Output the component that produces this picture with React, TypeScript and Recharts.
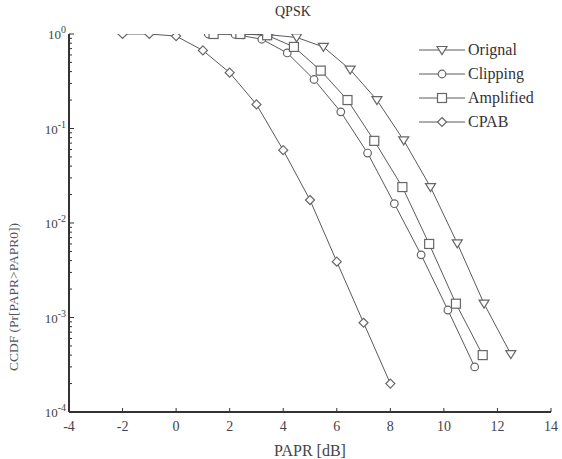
import React from 'react';
import { LineChart, Line, XAxis, YAxis } from 'recharts';

const xTicks = [-4, -2, 0, 2, 4, 6, 8, 10, 12, 14];
const yMajor = [1e-4, 1e-3, 1e-2, 1e-1, 1];
const yMinorFactors = [2, 3, 4, 5, 6, 7, 8, 9];

const origX = [2.5, 3.5, 4.5, 5.5, 6.5, 7.5, 8.5, 9.5, 10.5, 11.5, 12.5];
const origY = [1.0, 0.98, 0.92, 0.73, 0.42, 0.2, 0.075, 0.024, 0.0061, 0.0014, 0.00041];

const clipX = [1.2, 2.2, 3.2, 4.15, 5.15, 6.15, 7.15, 8.15, 9.15, 10.15, 11.15];
const clipY = [1.0, 0.99, 0.88, 0.63, 0.33, 0.15, 0.055, 0.016, 0.0046, 0.0012, 0.0003];

const ampX = [1.4, 2.4, 3.4, 4.4, 5.4, 6.4, 7.4, 8.45, 9.45, 10.45, 11.45];
const ampY = [1.0, 1.0, 0.97, 0.73, 0.41, 0.2, 0.074, 0.024, 0.006, 0.0014, 0.0004];

const cpabX = [-2, -1, 0, 1, 2, 3, 4, 5, 6, 7, 8];
const cpabY = [1.0, 1.0, 0.95, 0.67, 0.39, 0.18, 0.059, 0.0175, 0.0039, 0.00088, 0.0002];

const toRows = (xs: number[], ys: number[]) => xs.map((x, i) => ({ x, y: ys[i] }));

const yTicks = [
  ...yMajor,
  ...yMajor.slice(0, 4).flatMap((d) => yMinorFactors.map((m) => m * d)),
].sort((a, b) => a - b);

const LINE = '#5a5a5a';
const FONT = '"Liberation Serif", "Times New Roman", serif';

const Marker = ({ kind, cx, cy }: { kind: string; cx: number; cy: number }) => {
  const common = { fill: '#fff', stroke: '#666', strokeWidth: 1.2 };
  if (kind === 'tri') {
    const r = 5;
    return <polygon points={`${cx - r},${cy - r * 0.7} ${cx + r},${cy - r * 0.7} ${cx},${cy + r * 0.9}`} {...common} />;
  }
  if (kind === 'circle') return <circle cx={cx} cy={cy} r={3.8} {...common} />;
  if (kind === 'square') return <rect x={cx - 4.5} y={cy - 4.5} width={9} height={9} {...common} />;
  const r = 4.5;
  return <polygon points={`${cx},${cy - r} ${cx + r},${cy} ${cx},${cy + r} ${cx - r},${cy}`} {...common} />;
};

const dotFor = (kind: string) => (p: any) => <Marker key={`${kind}-${p.index}`} kind={kind} cx={p.cx} cy={p.cy} />;

const series = [
  { name: 'Orignal', kind: 'tri', data: toRows(origX, origY) },
  { name: 'Clipping', kind: 'circle', data: toRows(clipX, clipY) },
  { name: 'Amplified', kind: 'square', data: toRows(ampX, ampY) },
  { name: 'CPAB', kind: 'diamond', data: toRows(cpabX, cpabY) },
];

const XTick = (props: any) => {
  const { x, y, payload } = props;
  return (
    <g>
      <line x1={x} x2={x} y1={y} y2={y - 4} stroke="#333" strokeWidth={1} />
      <text x={x} y={y + 19} textAnchor="middle" fontSize={14} fill="#444" fontFamily={FONT}>
        {payload.value}
      </text>
    </g>
  );
};

const YTick = (props: any) => {
  const { x, y, payload } = props;
  const lg = Math.log10(payload.value);
  const major = Math.abs(lg - Math.round(lg)) < 1e-9;
  return (
    <g>
      <line x1={x} x2={x + (major ? 5 : 3)} y1={y} y2={y} stroke="#333" strokeWidth={1} />
      {major && (
        <text x={x - 3} y={y + 5} textAnchor="end" fontSize={13} fill="#444" fontFamily={FONT}>
          10
          <tspan dy={-6} fontSize={10}>{Math.round(lg)}</tspan>
        </text>
      )}
    </g>
  );
};

const LegendBox = () => (
  <div style={{ position: 'absolute', left: 419, top: 38, fontFamily: FONT, fontSize: 16, color: '#333' }}>
    {series.map((s) => (
      <div key={s.name} style={{ display: 'flex', alignItems: 'center', height: 24 }}>
        <svg width={46} height={14}>
          <line x1={0} x2={46} y1={7} y2={7} stroke={LINE} strokeWidth={1} />
          <Marker kind={s.kind} cx={23} cy={7} />
        </svg>
        <span style={{ marginLeft: 3 }}>{s.name}</span>
      </div>
    ))}
  </div>
);

export default function App() {
  return (
    <div style={{ position: 'absolute', left: 0, top: 0, width: 562, height: 459, background: '#fff' }}>
      <LineChart width={562} height={459} margin={{ top: 34, right: 11, left: 19, bottom: 17 }}>
        <XAxis
          dataKey="x"
          type="number"
          domain={[-4, 14]}
          ticks={xTicks}
          interval={0}
          tick={<XTick />}
          tickLine={false}
          tickSize={0}
          tickMargin={0}
          axisLine={{ stroke: '#333', strokeWidth: 2 }}
          height={30}
          allowDataOverflow
          label={{ value: 'PAPR [dB]', position: 'insideBottom', offset: -14, fontSize: 16, fill: '#444', fontFamily: FONT }}
        />
        <YAxis
          dataKey="y"
          type="number"
          scale="log"
          domain={[1e-4, 1]}
          ticks={yTicks}
          interval={0}
          tick={<YTick />}
          tickLine={false}
          tickSize={0}
          tickMargin={0}
          axisLine={{ stroke: '#333', strokeWidth: 2 }}
          width={50}
          allowDataOverflow
          label={{
            value: 'CCDF (Pr[PAPR>PAPR0])',
            angle: -90,
            position: 'left',
            offset: 6,
            fontSize: 13.5,
            fill: '#555',
            fontFamily: FONT,
          }}
        />
        {series.map((s) => (
          <Line
            key={s.name}
            data={s.data}
            dataKey="y"
            name={s.name}
            type="linear"
            stroke={LINE}
            strokeWidth={1}
            dot={dotFor(s.kind)}
            activeDot={false}
            isAnimationActive={false}
          />
        ))}
      </LineChart>
      <div
        style={{ position: 'absolute', left: 275, top: 4, fontFamily: FONT, fontSize: 14, color: '#333' }}
      >
        QPSK
      </div>
      <LegendBox />
    </div>
  );
}
